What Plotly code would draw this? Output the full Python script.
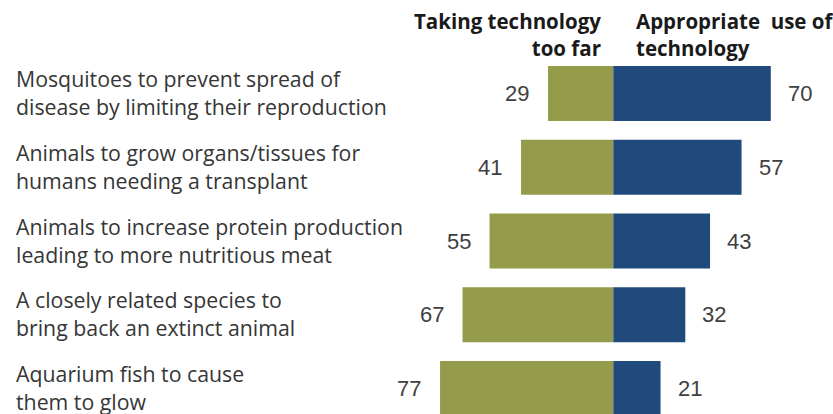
import plotly.graph_objects as go

# Survey responses: share saying each use of genetic engineering is ...
categories = [
    "Mosquitoes to prevent spread of<br>disease by limiting their reproduction",
    "Animals to grow organs/tissues for<br>humans needing a transplant",
    "Animals to increase protein production<br>leading to more nutritious meat",
    "A closely related species to<br>bring back an extinct animal",
    "Aquarium fish to cause<br>them to glow",
]
too_far = [29, 41, 55, 67, 77]
appropriate = [70, 57, 43, 32, 21]

header_left = "Taking technology<br>too far"
header_right = "Appropriate  use of<br>technology"

OLIVE = "#949b4a"
NAVY = "#204a7c"
TEXT = "#363636"
NUM = "#404040"

W, H = 833, 414
CENTER_PX = 613.3
PX_PER_UNIT = 2.25
ROW0_PX, ROW_PITCH = 93.5, 73.75

fig = go.Figure()
fig.add_trace(go.Bar(
    y=categories, x=[-v for v in too_far], orientation="h",
    marker=dict(color=OLIVE, line=dict(width=0)), hoverinfo="skip",
    name="Taking technology too far",
))
fig.add_trace(go.Bar(
    y=categories, x=appropriate, orientation="h",
    marker=dict(color=NAVY, line=dict(width=0)), hoverinfo="skip",
    name="Appropriate use of technology",
))

annotations = []
label_font = dict(family="Open Sans", size=21.3, color=TEXT)
num_font = dict(family="Liberation Sans", size=22, color=NUM)

for cat, left, right in zip(categories, too_far, appropriate):
    annotations.append(dict(
        x=14 / W, xref="paper", y=cat, yref="y", text=cat,
        xanchor="left", yanchor="middle", align="left", yshift=1,
        showarrow=False, font=label_font,
    ))
    annotations.append(dict(
        x=-left, xref="x", y=cat, yref="y", text=str(left),
        xanchor="right", yanchor="middle", xshift=-17,
        showarrow=False, font=num_font,
    ))
    annotations.append(dict(
        x=right, xref="x", y=cat, yref="y", text=str(right),
        xanchor="left", yanchor="middle", xshift=15,
        showarrow=False, font=num_font,
    ))

head_font = dict(family="Open Sans", size=20.5, color="#1a1a1a", weight="bold")
annotations.append(dict(
    x=603 / W, xref="paper", y=1 - 34 / H, yref="paper",
    text=header_left, xanchor="right", yanchor="middle", align="right",
    showarrow=False, font=head_font,
))
annotations.append(dict(
    x=634 / W, xref="paper", y=1 - 34 / H, yref="paper",
    text=header_right, xanchor="left", yanchor="middle", align="left",
    showarrow=False, font=head_font,
))

fig.update_layout(
    width=W, height=H,
    margin=dict(l=0, r=0, t=0, b=0),
    paper_bgcolor="white", plot_bgcolor="white",
    barmode="relative", bargap=0.254,
    showlegend=False,
    annotations=annotations,
    xaxis=dict(
        range=[-CENTER_PX / PX_PER_UNIT, (W - CENTER_PX) / PX_PER_UNIT],
        visible=False, fixedrange=True,
    ),
    yaxis=dict(
        categoryorder="array", categoryarray=categories,
        range=[(H - ROW0_PX) / ROW_PITCH, -ROW0_PX / ROW_PITCH],
        visible=False, fixedrange=True,
    ),
)

fig.write_html("out.html")
